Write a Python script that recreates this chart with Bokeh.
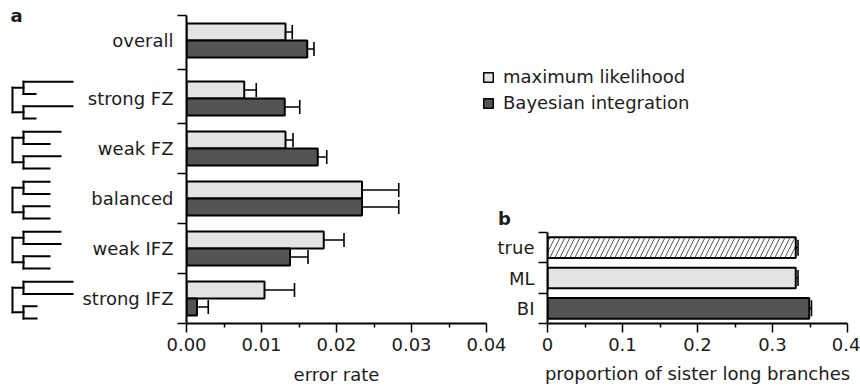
from bokeh.plotting import figure
from bokeh.models import (Range1d, FixedTicker, PrintfTickFormatter, ColumnDataSource,
                          Whisker, TeeHead, Legend, LegendItem, Label, GridBox)
from bokeh.embed import file_html
from bokeh.resources import INLINE

# ---------------- data ----------------
groups = ["overall", "strong FZ", "weak FZ", "balanced", "weak IFZ", "strong IFZ"]
ml_rate = [0.0132, 0.0077, 0.0132, 0.0234, 0.0183, 0.0104]
ml_err = [0.0009, 0.0016, 0.0010, 0.0049, 0.0027, 0.0040]
bi_rate = [0.0161, 0.0131, 0.0175, 0.0234, 0.0138, 0.0014]
bi_err = [0.0009, 0.0020, 0.0012, 0.0049, 0.0024, 0.0015]
x_ticks_a = [0.0, 0.01, 0.02, 0.03, 0.04]
x_minor_a = [0.005, 0.015, 0.025, 0.035]

# tree icons: leaf branch lengths (top to bottom) of the 4-taxon trees ((1,2),(3,4))
tree_leaf_len = {
    "strong FZ": [49, 12, 49, 12],
    "weak FZ": [37, 26, 37, 26],
    "balanced": [26, 26, 26, 26],
    "weak IFZ": [37, 37, 26, 26],
    "strong IFZ": [49, 49, 13, 13],
}

methods = ["true", "ML", "BI"]
prop = [0.331, 0.331, 0.349]
prop_err = [0.003, 0.003, 0.003]
x_ticks_b = [0.0, 0.1, 0.2, 0.3, 0.4]
x_minor_b = [0.05, 0.15, 0.25, 0.35]

legend_labels = ["maximum likelihood", "Bayesian integration"]

LIGHT = "#e3e3e3"
DARK = "#545454"
INK = "#1c1c1c"
FONT = "DejaVu Sans"
FS = "18px"
W, H = 860, 387

# ---------------- layout helpers ----------------
n = len(groups)
ypos = [float(n - 1 - i) for i in range(n)]
ypos[0] += 0.16  # extra gap above the "overall" group
ypos = [round(v, 3) for v in ypos]
asc = sorted(ypos)
bounds = [asc[0] - 0.5] + [round((a + b) / 2, 3) for a, b in zip(asc[:-1], asc[1:])] + [asc[-1] + 0.5]
yr_a = Range1d(bounds[0], bounds[-1])
OFF = 0.17
BH = 0.34
A_LEFT, A_RIGHT, A_TOP, A_BOTTOM = 186, 486, 15, 323


def base_fig(**kw):
    p = figure(width=W, height=H, output_backend="svg", toolbar_location=None, **kw)
    p.frame_align = False
    p.background_fill_color = None
    p.border_fill_color = None
    p.outline_line_color = None
    p.grid.visible = False
    return p


def style_axes(p):
    for ax in (p.xaxis[0], p.yaxis[0]):
        ax.axis_line_width = 2
        ax.axis_line_color = "black"
        ax.major_label_text_font = FONT
        ax.major_label_text_font_size = FS
        ax.major_label_text_color = INK
        ax.axis_label_text_font = FONT
        ax.axis_label_text_font_size = FS
        ax.axis_label_text_font_style = "normal"
        ax.axis_label_text_color = INK
    xa = p.xaxis[0]
    xa.major_tick_out = 9
    xa.major_tick_in = 0
    xa.major_tick_line_width = 1.5
    xa.minor_tick_out = 4
    xa.minor_tick_in = 0
    xa.minor_tick_line_width = 1.5
    xa.major_label_standoff = 5
    xa.axis_label_standoff = 10
    ya = p.yaxis[0]
    ya.major_tick_line_color = None
    ya.major_tick_out = 0
    ya.major_tick_in = 0
    ya.minor_tick_out = 9
    ya.minor_tick_in = 0
    ya.minor_tick_line_width = 1.5
    ya.major_label_standoff = 4


# ---------------- panel a ----------------
pa = base_fig(x_range=Range1d(0, 0.04), y_range=yr_a,
              min_border_left=A_LEFT, min_border_right=W - A_RIGHT,
              min_border_top=A_TOP, min_border_bottom=H - A_BOTTOM)
src_a = ColumnDataSource(dict(
    y_ml=[v + OFF for v in ypos], y_bi=[v - OFF for v in ypos],
    ml=ml_rate, bi=bi_rate,
    ml_lo=[m - e for m, e in zip(ml_rate, ml_err)], ml_hi=[m + e for m, e in zip(ml_rate, ml_err)],
    bi_lo=[m - e for m, e in zip(bi_rate, bi_err)], bi_hi=[m + e for m, e in zip(bi_rate, bi_err)],
))
pa.hbar(y="y_ml", left=0, right="ml", height=BH, source=src_a,
        fill_color=LIGHT, line_color="black", line_width=2)
pa.hbar(y="y_bi", left=0, right="bi", height=BH, source=src_a,
        fill_color=DARK, line_color="black", line_width=2)
for lo, hi, base in (("ml_lo", "ml_hi", "y_ml"), ("bi_lo", "bi_hi", "y_bi")):
    pa.add_layout(Whisker(source=src_a, base=base, lower=lo, upper=hi, dimension="width",
                          line_width=1.6, line_color="black",
                          lower_head=TeeHead(size=14, line_width=1.6, line_color="black"),
                          upper_head=TeeHead(size=14, line_width=1.6, line_color="black")))
pa.xaxis.ticker = FixedTicker(ticks=x_ticks_a, minor_ticks=x_minor_a)
pa.xaxis.formatter = PrintfTickFormatter(format="%.2f")
pa.xaxis.axis_label = "error rate"
pa.yaxis.ticker = FixedTicker(ticks=ypos, minor_ticks=bounds)
pa.yaxis.major_label_overrides = {y: g for y, g in zip(ypos, groups)}
style_axes(pa)

# ---------------- tree icons (share y scale of panel a) ----------------
pt = base_fig(x_range=Range1d(0, 80), y_range=yr_a,
              min_border_left=0, min_border_right=W - 80,
              min_border_top=A_TOP, min_border_bottom=H - A_BOTTOM)
pt.axis.visible = False
ROOT_X, NODE_X, LEAF_GAP = 12, 23, 0.245
x0s, y0s, x1s, y1s = [], [], [], []
for g, y in zip(groups, ypos):
    if g not in tree_leaf_len:
        continue
    lens = tree_leaf_len[g]
    ly = [y + (1.5 - k) * LEAF_GAP - 0.03 for k in range(4)]
    for k in range(4):
        x0s.append(NODE_X); x1s.append(NODE_X + lens[k]); y0s.append(ly[k]); y1s.append(ly[k])
    mids = []
    for a, b in ((0, 1), (2, 3)):
        x0s.append(NODE_X); x1s.append(NODE_X); y0s.append(ly[a]); y1s.append(ly[b])
        m = (ly[a] + ly[b]) / 2
        mids.append(m)
        x0s.append(ROOT_X); x1s.append(NODE_X); y0s.append(m); y1s.append(m)
    x0s.append(ROOT_X); x1s.append(ROOT_X); y0s.append(mids[0]); y1s.append(mids[1])
pt.segment(x0=x0s, y0=y0s, x1=x1s, y1=y1s, line_color="black", line_width=2, line_cap="square")

# ---------------- panel b ----------------
nb = len(methods)
ypos_b = [float(nb - 1 - i) for i in range(nb)]
bounds_b = [-0.5 + k for k in range(nb + 1)]
pb = base_fig(x_range=Range1d(0, 0.4), y_range=Range1d(-0.5, nb - 0.5),
              min_border_left=547, min_border_right=W - 847,
              min_border_top=232, min_border_bottom=H - A_BOTTOM)
src_b = ColumnDataSource(dict(
    y=ypos_b, v=prop,
    lo=[m - e for m, e in zip(prop, prop_err)], hi=[m + e for m, e in zip(prop, prop_err)],
    fill=["white", LIGHT, DARK], hatch=["/", " ", " "],
))
pb.hbar(y="y", left=0, right="v", height=0.68, source=src_b,
        fill_color="fill", line_color="black", line_width=2,
        hatch_pattern="hatch", hatch_color="#555555", hatch_scale=10, hatch_weight=1)
pb.add_layout(Whisker(source=src_b, base="y", lower="lo", upper="hi", dimension="width",
                      line_width=1.6, line_color="black",
                      lower_head=TeeHead(size=16, line_width=1.6, line_color="black"),
                      upper_head=TeeHead(size=16, line_width=1.6, line_color="black")))
pb.xaxis.ticker = FixedTicker(ticks=x_ticks_b, minor_ticks=x_minor_b)
pb.xaxis.major_label_overrides = {0: "0", 0.1: "0.1", 0.2: "0.2", 0.3: "0.3", 0.4: "0.4"}
pb.xaxis.axis_label = "proportion of sister long branches"
pb.yaxis.ticker = FixedTicker(ticks=ypos_b, minor_ticks=bounds_b)
pb.yaxis.major_label_overrides = {y: m for y, m in zip(ypos_b, methods)}
style_axes(pb)
pb.yaxis.major_label_standoff = 4
pb.xaxis.axis_label_standoff = 9

# ---------------- legend (own overlay plot, data units = screen pixels) ----------------
LEG_L, LEG_R, LEG_T, LEG_B = 482, 720, 66, 126
GLYPH, ROW_H, ROW_GAP = 12, 20.5, 5
pl = base_fig(x_range=Range1d(LEG_L, LEG_R), y_range=Range1d(LEG_B, LEG_T),
              min_border_left=LEG_L, min_border_right=W - LEG_R,
              min_border_top=LEG_T, min_border_bottom=H - LEG_B)
pl.axis.visible = False
# stand-in glyphs hidden beneath their own legend keys
key_cy = [LEG_T + ROW_H / 2 + i * (ROW_H + ROW_GAP) for i in range(len(legend_labels))]
key_cx = LEG_L + GLYPH / 2
keys = []
for cy, col in zip(key_cy, [LIGHT, DARK]):
    keys.append(pl.hbar(y=[cy], left=[key_cx - 2], right=[key_cx + 2], height=3,
                        fill_color=col, line_color="black", line_width=1.5))
leg = Legend(items=[LegendItem(label=lab, renderers=[r]) for lab, r in zip(legend_labels, keys)],
             location="top_left", padding=0, margin=0, spacing=ROW_GAP,
             glyph_width=GLYPH, glyph_height=GLYPH, label_height=GLYPH, label_standoff=9,
             label_text_font=FONT, label_text_font_size=FS, label_text_color=INK,
             border_line_color=None, background_fill_alpha=0)
pl.add_layout(leg)

# ---------------- panel letters ----------------
pd = base_fig(x_range=Range1d(0, W), y_range=Range1d(H, 0),
              min_border_left=0, min_border_right=0, min_border_top=0, min_border_bottom=0)
pd.axis.visible = False
pd.add_layout(Label(x=16, y=15, text="a", text_font=FONT, text_font_size=FS, text_font_style="bold",
                    text_align="center", text_baseline="middle", text_color=INK))
pd.add_layout(Label(x=504, y=218, text="b", text_font=FONT, text_font_size=FS, text_font_style="bold",
                    text_align="center", text_baseline="middle", text_color=INK))

layout = GridBox(children=[(pd, 0, 0), (pt, 0, 0), (pa, 0, 0), (pb, 0, 0), (pl, 0, 0)])

open("out.html", "w").write(file_html(layout, INLINE))
